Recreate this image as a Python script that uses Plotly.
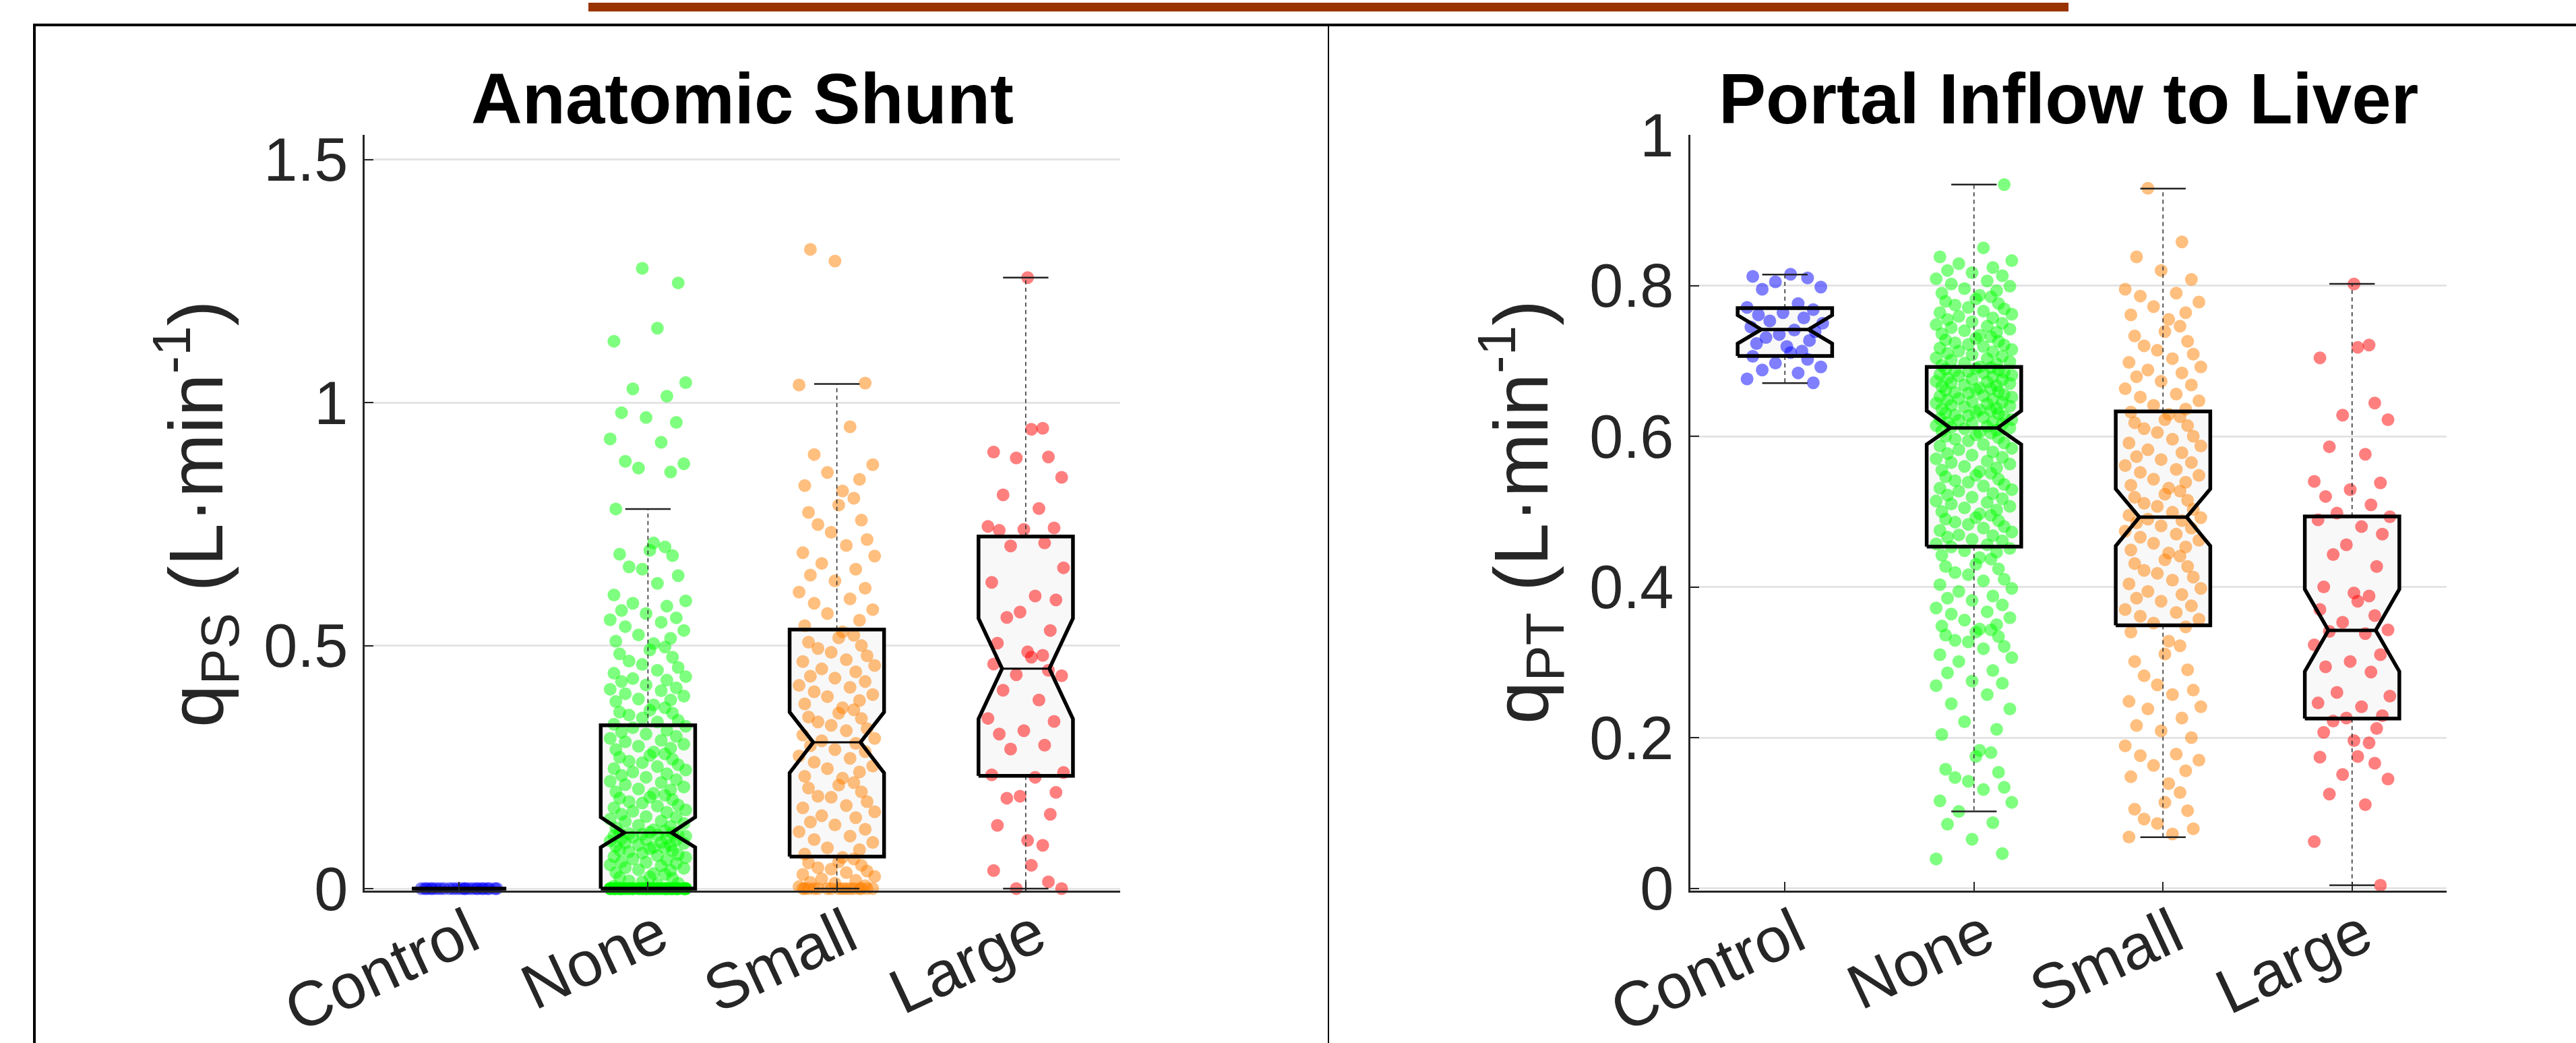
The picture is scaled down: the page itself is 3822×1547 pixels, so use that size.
import plotly.graph_objects as go

# ---------------------------------------------------------------- data
groups = ["Control", "None", "Small", "Large"]

# Anatomic shunt flow q_PS (L/min) per animal
shunt_control = [0, 0, 0, 0, 0, 0, 0, 0, 0, 0, 0, 0,
                 0, 0, 0, 0, 0, 0, 0, 0, 0, 0, 0, 0]
shunt_none = [
    0, 0, 0, 0, 0, 0, 0, 0, 0, 0, 0, 0, 0, 0, 0, 0, 0, 0, 0, 0,
    0, 0, 0, 0, 0, 0, 0, 0, 0, 0, 0, 0, 0, 0, 0, 0, 0, 0, 0, 0,
    0, 0, 0, 0, 0, 0, 0, 0, 0, 0, 0, 0, 0, 0, 0, 0, 0, 0, 0, 0,
    0, 0, 0, 0, 0, 0, 0, 0, 0, 0, 0, 0, 0, 0, 0, 0,
    0.005, 0.009, 0.011, 0.014, 0.016, 0.021, 0.023, 0.024, 0.029, 0.031,
    0.033, 0.037, 0.039, 0.042, 0.043, 0.047, 0.049, 0.052, 0.054, 0.055,
    0.059, 0.061, 0.064, 0.066, 0.068, 0.07, 0.073, 0.076, 0.078, 0.079,
    0.082, 0.084, 0.085, 0.087, 0.089, 0.09, 0.093, 0.094, 0.095, 0.098,
    0.1, 0.101, 0.103, 0.104, 0.106, 0.108, 0.109, 0.11, 0.111, 0.112,
    0.113, 0.114, 0.115, 0.116,
    0.119, 0.121, 0.125, 0.128, 0.13, 0.134, 0.138, 0.139, 0.143, 0.147,
    0.148, 0.153, 0.157, 0.159, 0.162, 0.166, 0.17, 0.172, 0.176, 0.179,
    0.183, 0.186, 0.188, 0.192, 0.196, 0.199, 0.203, 0.205, 0.209, 0.214,
    0.218, 0.221, 0.224, 0.229, 0.233, 0.236, 0.24, 0.244, 0.247, 0.251,
    0.255, 0.259, 0.262, 0.266, 0.27, 0.274, 0.277, 0.281, 0.286, 0.289,
    0.293, 0.297, 0.302, 0.305, 0.309, 0.313, 0.318, 0.322, 0.326, 0.331,
    0.334,
    0.338, 0.343, 0.346, 0.351, 0.357, 0.361, 0.363, 0.367, 0.372, 0.378,
    0.385, 0.388, 0.39, 0.396, 0.401, 0.407, 0.41, 0.413, 0.419, 0.426,
    0.429, 0.432, 0.436, 0.443, 0.449, 0.455, 0.461, 0.468, 0.476, 0.483,
    0.491, 0.497, 0.504, 0.509, 0.515, 0.522, 0.531, 0.539, 0.548, 0.553,
    0.557, 0.566, 0.572, 0.581, 0.587, 0.592, 0.604, 0.628, 0.644, 0.657,
    0.662, 0.685, 0.688, 0.696, 0.703, 0.711, 0.781,
    0.857, 0.865, 0.874, 0.879, 0.918, 0.925, 0.959, 0.969, 0.979, 1.013,
    1.028, 1.041, 1.126, 1.153, 1.246, 1.276]
shunt_small = [
    0, 0, 0, 0, 0, 0, 0, 0, 0, 0, 0, 0, 0, 0, 0, 0,
    0.004, 0.006, 0.011, 0.013, 0.017, 0.02, 0.025, 0.029, 0.033, 0.036,
    0.04, 0.043, 0.048, 0.053, 0.055, 0.061, 0.064,
    0.071, 0.08, 0.084, 0.095, 0.101, 0.108, 0.117, 0.122, 0.131, 0.137,
    0.146, 0.15, 0.158, 0.166, 0.171, 0.179, 0.188, 0.19, 0.199, 0.207,
    0.213, 0.218, 0.227, 0.231, 0.24, 0.247, 0.252, 0.26, 0.268, 0.273,
    0.282, 0.286, 0.294, 0.299,
    0.304, 0.309, 0.316, 0.325, 0.329, 0.336, 0.343, 0.35, 0.353, 0.361,
    0.368, 0.372, 0.38, 0.387, 0.395, 0.399, 0.405, 0.414, 0.418, 0.426,
    0.433, 0.437, 0.446, 0.452, 0.459, 0.467, 0.471, 0.479, 0.486, 0.494,
    0.5, 0.507, 0.516, 0.521, 0.528,
    0.541, 0.552, 0.566, 0.574, 0.587, 0.596, 0.61, 0.618, 0.633, 0.645,
    0.657, 0.669, 0.684, 0.691, 0.706, 0.718, 0.733, 0.749, 0.758, 0.774,
    0.789, 0.803, 0.818, 0.829, 0.842, 0.856, 0.872, 0.893, 0.95, 1.036,
    1.04, 1.291, 1.315]
shunt_large = [
    1.257, 0.947, 0.945, 0.898, 0.888, 0.886, 0.846, 0.81, 0.782, 0.745,
    0.742, 0.739, 0.737, 0.711, 0.705, 0.66, 0.63, 0.602, 0.594, 0.569,
    0.558, 0.531, 0.505, 0.487, 0.48, 0.476, 0.462, 0.449, 0.44, 0.438,
    0.408, 0.388, 0.35, 0.344, 0.325, 0.318, 0.295, 0.287, 0.239, 0.234,
    0.229, 0.198, 0.19, 0.186, 0.153, 0.13, 0.099, 0.089, 0.048, 0.037,
    0.014, 0.0, 0.0]

# Portal inflow to liver q_PT (L/min) per animal
inflow_control = [
    0.815, 0.812, 0.81, 0.805, 0.798, 0.795, 0.776, 0.771, 0.768, 0.764,
    0.761, 0.757, 0.753, 0.75, 0.745, 0.741, 0.739, 0.735, 0.731, 0.727,
    0.723, 0.719, 0.713, 0.711, 0.706, 0.702, 0.697, 0.692, 0.688, 0.684,
    0.676, 0.671]
inflow_none = [
    0.039, 0.046, 0.065, 0.085, 0.087, 0.102, 0.114, 0.116, 0.131, 0.134,
    0.142, 0.147, 0.154, 0.158, 0.175, 0.18, 0.183, 0.204, 0.211, 0.221,
    0.238, 0.245, 0.257, 0.269, 0.272, 0.275, 0.286, 0.289, 0.301, 0.306,
    0.31, 0.318, 0.321, 0.327, 0.329, 0.334, 0.336, 0.34, 0.343, 0.344,
    0.348, 0.35, 0.356, 0.359, 0.364, 0.367, 0.372, 0.376, 0.382, 0.385,
    0.388, 0.394, 0.398, 0.403, 0.408, 0.41, 0.416, 0.419, 0.424, 0.427,
    0.43, 0.437, 0.439, 0.442, 0.446, 0.448, 0.451, 0.453,
    0.456, 0.457, 0.461, 0.463, 0.466, 0.468, 0.469, 0.473, 0.475, 0.478,
    0.48, 0.483, 0.486, 0.488, 0.49, 0.492, 0.495, 0.497, 0.5, 0.502,
    0.505, 0.507, 0.51, 0.512, 0.514, 0.517, 0.519, 0.522, 0.524, 0.527,
    0.529, 0.531, 0.534, 0.536, 0.539, 0.541, 0.543, 0.546, 0.548, 0.551,
    0.553, 0.555, 0.558, 0.56, 0.563, 0.565, 0.567, 0.57, 0.572, 0.575,
    0.577, 0.579, 0.582, 0.584, 0.587, 0.589, 0.591, 0.594, 0.596, 0.598,
    0.6, 0.602, 0.604, 0.605, 0.607, 0.608, 0.61, 0.611,
    0.612, 0.613, 0.614, 0.616, 0.617, 0.618, 0.619, 0.621, 0.622, 0.623,
    0.625, 0.626, 0.627, 0.628, 0.63, 0.631, 0.632, 0.634, 0.635, 0.636,
    0.637, 0.639, 0.64, 0.641, 0.643, 0.644, 0.645, 0.646, 0.648, 0.649,
    0.65, 0.652, 0.653, 0.654, 0.655, 0.657, 0.658, 0.659, 0.661, 0.662,
    0.663, 0.664, 0.666, 0.667, 0.668, 0.67, 0.671, 0.672, 0.673, 0.675,
    0.676, 0.677, 0.679, 0.68, 0.681, 0.682, 0.684, 0.685, 0.686, 0.687,
    0.688, 0.689, 0.69, 0.691, 0.692,
    0.694, 0.696, 0.697, 0.699, 0.701, 0.703, 0.704, 0.706, 0.708, 0.71,
    0.712, 0.713, 0.715, 0.717, 0.719, 0.721, 0.722, 0.724, 0.726, 0.728,
    0.73, 0.732, 0.734, 0.736, 0.738, 0.74, 0.742, 0.744, 0.746, 0.748,
    0.75, 0.752, 0.755, 0.757, 0.759, 0.762, 0.764, 0.766, 0.769, 0.771,
    0.774, 0.776, 0.779, 0.782, 0.785, 0.787, 0.79, 0.793, 0.796, 0.799,
    0.802, 0.806, 0.809, 0.813, 0.817, 0.82, 0.824, 0.829, 0.833, 0.838,
    0.85, 0.934]
inflow_small = [
    0.068, 0.072, 0.079, 0.086, 0.092, 0.103, 0.105, 0.114, 0.127, 0.139,
    0.148, 0.156, 0.163, 0.17, 0.176, 0.178, 0.189, 0.2, 0.209, 0.216,
    0.226, 0.238, 0.241, 0.248, 0.257, 0.263, 0.27, 0.282, 0.29, 0.301,
    0.311, 0.322, 0.328, 0.34, 0.347,
    0.352, 0.357, 0.361, 0.366, 0.37, 0.375, 0.381, 0.385, 0.39, 0.394,
    0.398, 0.404, 0.409, 0.413, 0.418, 0.422, 0.427, 0.431, 0.436, 0.441,
    0.445, 0.449, 0.453, 0.458, 0.462, 0.466, 0.47, 0.474, 0.478, 0.481,
    0.485, 0.488, 0.49, 0.492,
    0.495, 0.499, 0.503, 0.507, 0.511, 0.515, 0.519, 0.523, 0.527, 0.531,
    0.535, 0.539, 0.543, 0.548, 0.552, 0.556, 0.561, 0.565, 0.569, 0.573,
    0.578, 0.582, 0.587, 0.591, 0.596, 0.6, 0.605, 0.61, 0.614, 0.618,
    0.622, 0.626, 0.629, 0.632,
    0.636, 0.641, 0.647, 0.652, 0.656, 0.663, 0.668, 0.673, 0.679, 0.684,
    0.688, 0.692, 0.698, 0.703, 0.709, 0.714, 0.72, 0.726, 0.733, 0.739,
    0.746, 0.755, 0.761, 0.764, 0.772, 0.778, 0.786, 0.79, 0.795, 0.808,
    0.82, 0.838, 0.858, 0.929]
inflow_large = [
    0.802, 0.721, 0.718, 0.704, 0.644, 0.628, 0.622, 0.586, 0.576, 0.54,
    0.538, 0.529, 0.52, 0.509, 0.498, 0.493, 0.489, 0.48, 0.47, 0.456,
    0.443, 0.427, 0.4, 0.392, 0.388, 0.381, 0.37, 0.362, 0.353, 0.343,
    0.341, 0.338, 0.323, 0.31, 0.301, 0.294, 0.287, 0.26, 0.255, 0.246,
    0.241, 0.229, 0.226, 0.222, 0.212, 0.207, 0.196, 0.193, 0.175, 0.174,
    0.166, 0.151, 0.145, 0.125, 0.111, 0.062, 0.004]

# Notched box statistics per group (Control, None, Small, Large)
shunt_whisk_lo = [0, 0, 0, 0]
shunt_q1 = [0, 0, 0.066, 0.232]
shunt_notch_lo = [0, 0.085, 0.238, 0.349]
shunt_median = [0, 0.115, 0.301, 0.4525]
shunt_notch_hi = [0, 0.147, 0.363, 0.556]
shunt_q3 = [0, 0.336, 0.533, 0.7245]
shunt_whisk_hi = [0, 0.781, 1.038, 1.257]

inflow_whisk_lo = [0.6705, 0.102, 0.0677, 0.004]
inflow_q1 = [0.7064, 0.4534, 0.349, 0.2253]
inflow_notch_lo = [0.7229, 0.589, 0.4544, 0.2877]
inflow_median = [0.7417, 0.611, 0.4926, 0.3423]
inflow_notch_hi = [0.7606, 0.6338, 0.530, 0.3969]
inflow_q3 = [0.770, 0.692, 0.6328, 0.4936]
inflow_whisk_hi = [0.8146, 0.934, 0.9287, 0.8022]

shunt_ticks = [0, 0.5, 1, 1.5]
inflow_ticks = [0, 0.2, 0.4, 0.6, 0.8, 1]

# ---------------------------------------------------------------- style
W, H = 3822, 1547
FONT = "Liberation Sans"
AXIS_GRAY = "#262626"
POINT_COLORS = ["rgba(0,0,255,0.5)", "rgba(0,255,0,0.5)",
                "rgba(255,128,0,0.5)", "rgba(255,0,0,0.5)"]
BOX_HALF = 0.25          # half box width (category units)
CAP_HALF = 0.12          # half whisker-cap width
# fixed horizontal scatter pattern used to spread overlapping points
JITTER = [0.03, -0.17, 0.12, -0.05, 0.19, -0.12, 0.07, -0.20, 0.15, -0.01,
          -0.14, 0.10, -0.08, 0.20, -0.18, 0.05, 0.16, -0.03, -0.10, 0.13,
          -0.15, 0.01, 0.09]


def fx(px):
    return px / W


def fy(py):
    return 1 - py / H


fig = go.Figure()
shapes = []


def outline(c, q1, nlo, med, nhi, q3):
    w, n = BOX_HALF, BOX_HALF / 2
    xs = [c - w, c - w, c - n, c - w, c - w, c + w, c + w, c + n, c + w, c + w]
    ys = [q1, nlo, med, nhi, q3, q3, nhi, med, nlo, q1]
    return xs, ys


def draw_panel(xa, ya, data, q1s, nlos, meds, nhis, q3s, wlos, whis, med_w):
    # box fills, beneath the points
    for g in range(len(groups)):
        c = g + 1
        xs, ys = outline(c, q1s[g], nlos[g], meds[g], nhis[g], q3s[g])
        path = "M " + " L ".join(f"{x},{y}" for x, y in zip(xs, ys)) + " Z"
        shapes.append(dict(type="path", path=path, xref=xa, yref=ya,
                           fillcolor="#f8f8f8", line=dict(width=0),
                           layer="between"))
    # jittered points
    for g, vals in enumerate(data):
        c = g + 1
        xs = [c + JITTER[(i + 7 * g) % len(JITTER)] for i in range(len(vals))]
        fig.add_trace(go.Scatter(
            x=xs, y=vals, xaxis=xa, yaxis=ya, mode="markers",
            marker=dict(size=19, color=POINT_COLORS[g], line=dict(width=0)),
            cliponaxis=False, hoverinfo="skip", showlegend=False))
    # whiskers, caps, box outlines, medians
    for g in range(len(groups)):
        c = g + 1
        fig.add_trace(go.Scatter(
            x=[c, c, None, c, c], y=[q3s[g], whis[g], None, q1s[g], wlos[g]],
            xaxis=xa, yaxis=ya, mode="lines",
            line=dict(color="#333333", width=1.6, dash="6px,5px"),
            hoverinfo="skip", showlegend=False))
        fig.add_trace(go.Scatter(
            x=[c - CAP_HALF, c + CAP_HALF, None, c - CAP_HALF, c + CAP_HALF],
            y=[whis[g], whis[g], None, wlos[g], wlos[g]],
            xaxis=xa, yaxis=ya, mode="lines",
            line=dict(color="#222222", width=2.5),
            hoverinfo="skip", showlegend=False))
        xs, ys = outline(c, q1s[g], nlos[g], meds[g], nhis[g], q3s[g])
        fig.add_trace(go.Scatter(
            x=xs + [xs[0]], y=ys + [ys[0]], xaxis=xa, yaxis=ya, mode="lines",
            line=dict(color="black", width=5.5),
            hoverinfo="skip", showlegend=False))
        fig.add_trace(go.Scatter(
            x=[c - BOX_HALF / 2, c + BOX_HALF / 2], y=[meds[g], meds[g]],
            xaxis=xa, yaxis=ya, mode="lines",
            line=dict(color="black", width=med_w),
            hoverinfo="skip", showlegend=False))


draw_panel("x", "y",
           [shunt_control, shunt_none, shunt_small, shunt_large],
           shunt_q1, shunt_notch_lo, shunt_median, shunt_notch_hi, shunt_q3,
           shunt_whisk_lo, shunt_whisk_hi, 3)
draw_panel("x2", "y2",
           [inflow_control, inflow_none, inflow_small, inflow_large],
           inflow_q1, inflow_notch_lo, inflow_median, inflow_notch_hi,
           inflow_q3, inflow_whisk_lo, inflow_whisk_hi, 5)

# outer frame, panel divider and header rule
shapes += [
    dict(type="line", xref="paper", yref="paper", x0=fx(51), x1=fx(W + 10),
         y0=fy(37), y1=fy(37), line=dict(color="black", width=4)),
    dict(type="line", xref="paper", yref="paper", x0=fx(51), x1=fx(51),
         y0=fy(35), y1=fy(H + 10), line=dict(color="black", width=4)),
    dict(type="line", xref="paper", yref="paper", x0=fx(1971), x1=fx(1971),
         y0=fy(37), y1=fy(H + 10), line=dict(color="black", width=2)),
    dict(type="rect", xref="paper", yref="paper", x0=fx(873), x1=fx(3069),
         y0=fy(17), y1=fy(4), fillcolor="#993300", line=dict(width=0)),
]

xcommon = dict(range=[0.5, 4.5], tickvals=[1, 2, 3, 4], ticktext=groups,
               tickangle=-25, ticks="inside", ticklen=13, tickwidth=2,
               tickcolor=AXIS_GRAY, showline=True, linecolor=AXIS_GRAY,
               linewidth=2.5, showgrid=False, zeroline=False,
               ticklabelstandoff=-28, ticklabelshift=16,
               ticklabeloverflow="allow",
               tickfont=dict(family=FONT, size=94, color=AXIS_GRAY))
ycommon = dict(ticks="inside", ticklen=13, tickwidth=2, tickcolor=AXIS_GRAY,
               showline=True, linecolor=AXIS_GRAY, linewidth=2.5,
               showgrid=True, gridcolor="#e4e4e4", gridwidth=2.5,
               zeroline=False, ticklabelstandoff=4,
               tickfont=dict(family=FONT, size=90, color=AXIS_GRAY))
ydom = [fy(1321), fy(200)]

fig.update_layout(
    width=W, height=H, autosize=False,
    margin=dict(l=0, r=0, t=0, b=0),
    paper_bgcolor="white", plot_bgcolor="white",
    template="none", showlegend=False,
    xaxis=dict(domain=[fx(541), fx(1662)], anchor="y", **xcommon),
    yaxis=dict(domain=ydom, anchor="x", range=[-3 / 721, 1118 / 721],
               tickvals=shunt_ticks, **ycommon),
    xaxis2=dict(domain=[fx(2508), fx(3630)], anchor="y2", **xcommon),
    yaxis2=dict(domain=ydom, anchor="x2", range=[-3.5 / 1117.5, 1.0],
                tickvals=inflow_ticks, **ycommon),
    shapes=shapes,
    annotations=[
        dict(text="<b>Anatomic Shunt</b>", xref="paper", yref="paper",
             x=fx((541 + 1662) / 2), y=fy(146), showarrow=False,
             xanchor="center", yanchor="middle",
             font=dict(family=FONT, size=105, color="black")),
        dict(text="<b>Portal Inflow to Liver</b>", xref="paper", yref="paper",
             x=fx((2508 + 3630) / 2), y=fy(146), showarrow=False,
             xanchor="center", yanchor="middle",
             font=dict(family=FONT, size=105, color="black")),
        dict(text="q<sub>PS</sub> (L·min<sup>-1</sup>)", xref="paper",
             yref="paper", x=fx(290), y=fy(763), textangle=-90,
             showarrow=False, xanchor="center", yanchor="middle",
             font=dict(family=FONT, size=114, color=AXIS_GRAY)),
        dict(text="q<sub>PT</sub> (L·min<sup>-1</sup>)", xref="paper",
             yref="paper", x=fx(2256), y=fy(760), textangle=-90,
             showarrow=False, xanchor="center", yanchor="middle",
             font=dict(family=FONT, size=114, color=AXIS_GRAY)),
    ],
)

fig.write_html("out.html")
